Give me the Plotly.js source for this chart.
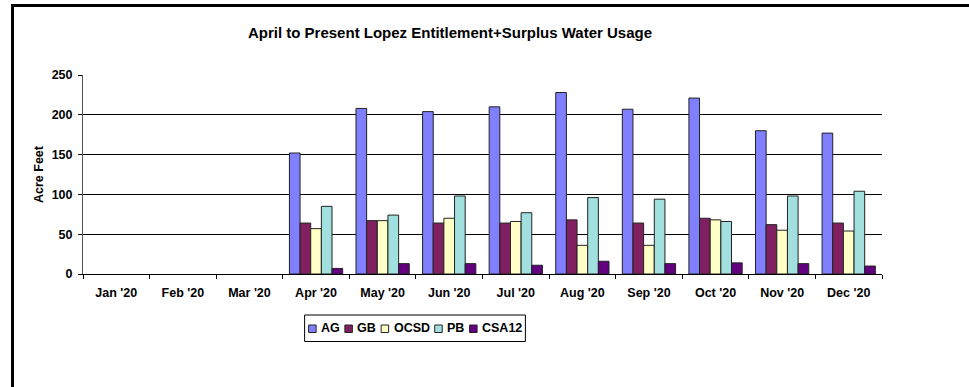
<!DOCTYPE html>
<html>
<head>
<meta charset="utf-8">
<script src="https://cdn.plot.ly/plotly-3.0.1.min.js"></script>
<style>
  html, body { margin: 0; padding: 0; background: #fff; }
  #wrap { position: relative; width: 969px; height: 387px; overflow: hidden; }
  #chart { position: absolute; left: 0; top: 0; width: 969px; height: 387px; }
  #frame { position: absolute; left: 11px; top: 4px; width: 1000px; height: 500px;
           border-left: 3px solid #000; border-top: 3px solid #000; pointer-events: none; }
</style>
</head>
<body>
<div id="wrap">
  <div id="chart"></div>
  <div id="frame"></div>
</div>
<script>
// Monthly usage in acre feet, Jan–Dec 2020 (no deliveries before April)
const months = ["Jan '20", "Feb '20", "Mar '20", "Apr '20", "May '20", "Jun '20",
                "Jul '20", "Aug '20", "Sep '20", "Oct '20", "Nov '20", "Dec '20"];
const agValues    = [null, null, null, 152, 208, 204, 210, 228, 207, 221, 180, 177];
const gbValues    = [null, null, null, 64, 67, 64, 64, 68, 64, 70, 62, 64];
const ocsdValues  = [null, null, null, 57, 67, 70, 66, 36, 36, 68, 55, 54];
const pbValues    = [null, null, null, 85, 74, 98, 77, 96, 94, 66, 98, 104];
const csa12Values = [null, null, null, 7, 13, 13, 11, 16, 13, 14, 13, 10];

const seriesNames  = ["AG", "GB", "OCSD", "PB", "CSA12"];
const seriesValues = [agValues, gbValues, ocsdValues, pbValues, csa12Values];
const seriesColors = ["#8080FF", "#802060", "#FFFFC6", "#A2E0E0", "#620080"];

const FAMILY = "Liberation Sans, Arial, sans-serif";
const W = 969, H = 387;
const M = { l: 83, r: 87, t: 75, b: 113 };
const plotW = W - M.l - M.r, plotH = H - M.t - M.b;

const traces = seriesNames.map((name, i) => ({
  type: "bar",
  name: name,
  x: months,
  y: seriesValues[i],
  marker: { color: seriesColors[i], line: { color: "#222", width: 1 } },
  showlegend: false
}));

// Compact boxed legend: small swatches followed by bold labels, laid out by text width
const legendFontSize = 12.5;
const ctx = document.createElement("canvas").getContext("2d");
ctx.font = "bold " + legendFontSize + "px " + FAMILY;
const px = v => (v - M.l) / plotW;          // pixel x -> paper x
const py = v => (H - M.b - v) / plotH;      // pixel y -> paper y
const legendTop = 315, legendBottom = 341.5, legendMid = (legendTop + legendBottom) / 2;
const sw = 7.5, swGap = 4, itemGap = 6, pad = 4;
const itemWidths = seriesNames.map(n => sw + swGap + ctx.measureText(n).width);
const legendWidth = pad * 2 + itemWidths.reduce((a, b) => a + b, 0) + itemGap * (seriesNames.length - 1);
const legendLeft = 415 - legendWidth / 2;

const shapes = [{
  type: "rect", xref: "paper", yref: "paper",
  x0: px(legendLeft), x1: px(legendLeft + legendWidth),
  y0: py(legendBottom), y1: py(legendTop),
  line: { color: "#000", width: 1 }, fillcolor: "#fff", layer: "above"
}];
const annotations = [];
let cx = legendLeft + pad;
seriesNames.forEach((n, i) => {
  shapes.push({
    type: "rect", xref: "paper", yref: "paper",
    x0: px(cx), x1: px(cx + sw),
    y0: py(legendMid + sw / 2 + 0.5), y1: py(legendMid - sw / 2 + 0.5),
    line: { color: "#222", width: 1 }, fillcolor: seriesColors[i], layer: "above"
  });
  annotations.push({
    xref: "paper", yref: "paper",
    x: px(cx + sw + swGap), y: py(legendMid),
    xanchor: "left", yanchor: "middle",
    text: "<b>" + n + "</b>", showarrow: false,
    font: { family: FAMILY, size: legendFontSize, color: "#000" },
    borderpad: 0
  });
  cx += itemWidths[i] + itemGap;
});

const layout = {
  width: W,
  height: H,
  margin: { l: M.l, r: M.r, t: M.t, b: M.b, pad: 0 },
  paper_bgcolor: "#fff",
  plot_bgcolor: "#fff",
  barmode: "group",
  bargap: 0.2,
  bargroupgap: 0,
  font: { family: FAMILY, color: "#000", size: 12.5 },
  title: {
    text: "<b>April to Present Lopez Entitlement+Surplus Water Usage</b>",
    font: { family: FAMILY, size: 15, color: "#000" },
    xref: "container", yref: "container",
    x: 450 / W, xanchor: "center",
    y: 1 - 33 / H, yanchor: "middle"
  },
  xaxis: {
    type: "category",
    tickson: "boundaries",
    ticks: "outside",
    ticklen: 4,
    tickcolor: "#000",
    showline: true,
    linecolor: "#000",
    linewidth: 1,
    showgrid: false,
    ticklabelstandoff: 7,
    tickfont: { family: FAMILY, size: 12.5, color: "#000", weight: "bold" },
    fixedrange: true
  },
  yaxis: {
    range: [0, 250],
    dtick: 50,
    ticks: "outside",
    ticklen: 4,
    tickcolor: "#000",
    showline: true,
    linecolor: "#555",
    linewidth: 1,
    showgrid: true,
    gridcolor: "#000",
    gridwidth: 1,
    zeroline: false,
    ticklabelstandoff: 3,
    tickfont: { family: FAMILY, size: 12.5, color: "#000", weight: "bold" },
    title: {
      text: "<b>Acre Feet</b>",
      font: { family: FAMILY, size: 12.5, color: "#000" },
      standoff: 5
    },
    fixedrange: true
  },
  showlegend: false,
  shapes: shapes,
  annotations: annotations
};

Plotly.newPlot("chart", traces, layout, { displayModeBar: false, staticPlot: true });
</script>
</body>
</html>
